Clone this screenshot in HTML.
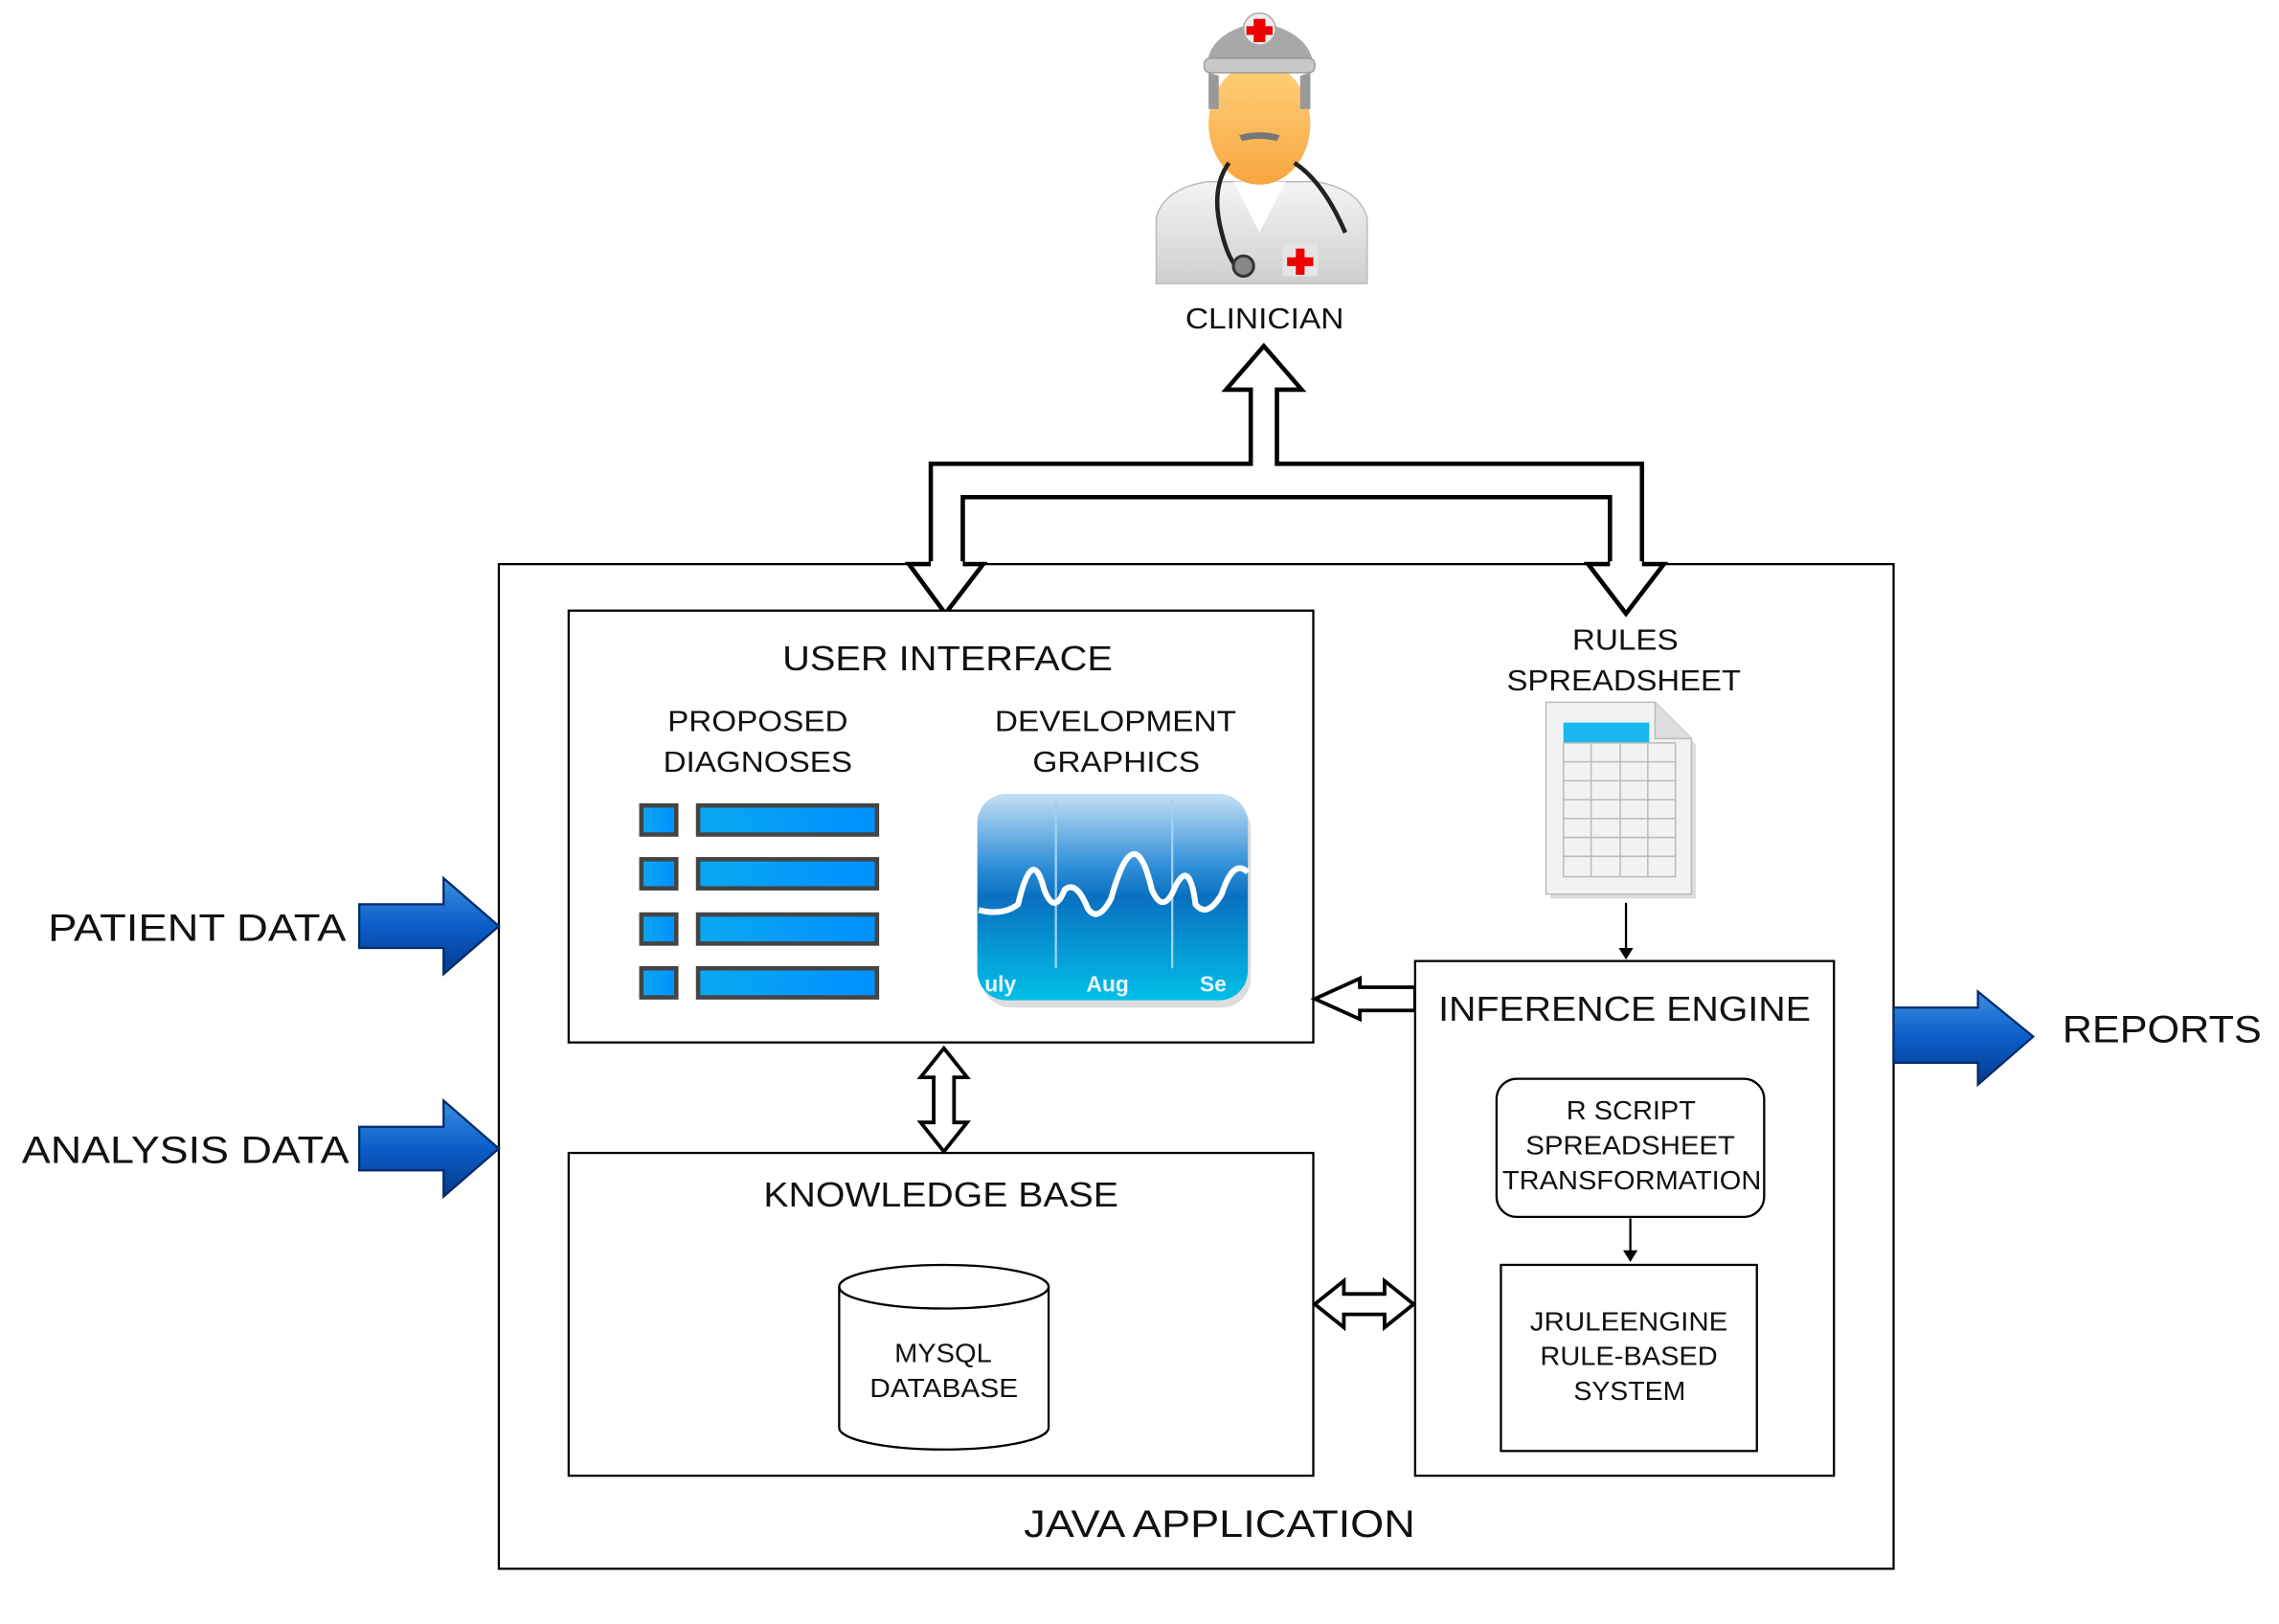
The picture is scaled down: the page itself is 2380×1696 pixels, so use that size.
<!DOCTYPE html>
<html><head><meta charset="utf-8"><style>
html,body{margin:0;padding:0;background:#fff}
svg{display:block}
text{font-family:"Liberation Sans",sans-serif;fill:#111}
</style></head><body>
<svg width="2380" height="1696" viewBox="0 0 1567 1117" preserveAspectRatio="none" xmlns="http://www.w3.org/2000/svg">
<defs>
<linearGradient id="bl" x1="0" y1="0" x2="0" y2="1"><stop offset="0" stop-color="#3a8fe0"/><stop offset="0.5" stop-color="#0a5ec8"/><stop offset="1" stop-color="#063a8c"/></linearGradient>
<linearGradient id="bar" x1="0" y1="0" x2="1" y2="0"><stop offset="0" stop-color="#0aa8f0"/><stop offset="1" stop-color="#0090ff"/></linearGradient>
<linearGradient id="ch" x1="0" y1="0" x2="0" y2="1"><stop offset="0" stop-color="#c6e0f4"/><stop offset="0.35" stop-color="#2f8fd8"/><stop offset="0.5" stop-color="#0a70c0"/><stop offset="1" stop-color="#00c0e8"/></linearGradient>
<linearGradient id="face" x1="0" y1="0" x2="0" y2="1"><stop offset="0" stop-color="#ffd27a"/><stop offset="1" stop-color="#f7a640"/></linearGradient>
<linearGradient id="coat" x1="0" y1="0" x2="0" y2="1"><stop offset="0" stop-color="#f4f4f4"/><stop offset="1" stop-color="#cfcfcf"/></linearGradient>
</defs>

<!-- clinician -->
<g>
<path d="M795,195 L795,150 Q800,130 830,125 L905,125 Q935,130 940,150 L940,195 Z" fill="url(#coat)" stroke="#bbb"/>
<path d="M848,125 L866,160 L884,125 Z" fill="#fff"/>
<ellipse cx="866" cy="85" rx="35" ry="42" fill="url(#face)"/>
<path d="M831,50 L831,75 L838,75 L838,52 Z M901,50 L901,75 L894,75 L894,52 Z" fill="#999"/>
<path d="M830,44 Q832,22 866,15 Q900,22 903,44 Z" fill="#a8a8a8"/>
<rect x="828" y="40" width="76" height="10" rx="4" fill="#c8c8c8" stroke="#999"/>
<circle cx="866" cy="20" r="11" fill="#eee" stroke="#aaa"/>
<path d="M862,13h8v5h5v6h-5v5h-8v-5h-5v-6h5z" fill="#e00"/>
<path d="M852,93 Q866,89 880,93 L878,97 Q866,94 854,97 Z" fill="#777"/>
<path d="M845,112 Q832,130 840,160 Q845,180 852,185 M890,112 Q910,125 925,160" fill="none" stroke="#222" stroke-width="3"/>
<circle cx="855" cy="183" r="7" fill="#888" stroke="#333" stroke-width="2"/>
<rect x="882" y="168" width="24" height="22" fill="#e4e4e4"/>
<path d="M891,171h6v6h6v6h-6v6h-6v-6h-6v-6h6z" fill="#e00"/>
<text x="815" y="226" font-size="20" textLength="109" lengthAdjust="spacingAndGlyphs">CLINICIAN</text>
</g>

<!-- hollow branching arrow -->
<polygon points="869,238 895,268 878,268 878,319 1129,319 1129,388 1144,388 1118,422 1092,388 1107,388 1107,342 662,342 662,388 676,388 650,422 625,388 640,388 640,319 860,319 860,268 843,268" fill="#fff" stroke="#000" stroke-width="3"/>

<!-- outer box -->
<rect x="343" y="388" width="959" height="691" fill="none" stroke="#000" stroke-width="1.5"/>
<polygon points="650,422 676,388 625,388" fill="#fff"/>
<polygon points="1118,422 1144,388 1092,388" fill="#fff"/>
<polygon points="650,422 676,388 625,388" fill="none" stroke="#000" stroke-width="3"/>
<polygon points="1118,422 1144,388 1092,388" fill="none" stroke="#000" stroke-width="3"/>
<line x1="640" y1="388" x2="662" y2="388" stroke="#fff" stroke-width="4"/>
<line x1="1107" y1="388" x2="1129" y2="388" stroke="#fff" stroke-width="4"/>
<text x="704" y="1057" font-size="26" textLength="269" lengthAdjust="spacingAndGlyphs">JAVA APPLICATION</text>

<!-- UI box -->
<rect x="391" y="420" width="512" height="297" fill="#fff" stroke="#000" stroke-width="1.5"/>
<text x="538" y="461" font-size="24" textLength="227" lengthAdjust="spacingAndGlyphs">USER INTERFACE</text>
<text x="459" y="503" font-size="20" textLength="124" lengthAdjust="spacingAndGlyphs">PROPOSED</text>
<text x="456" y="531" font-size="20" textLength="130" lengthAdjust="spacingAndGlyphs">DIAGNOSES</text>
<text x="684" y="503" font-size="20" textLength="166" lengthAdjust="spacingAndGlyphs">DEVELOPMENT</text>
<text x="710" y="531" font-size="20" textLength="115" lengthAdjust="spacingAndGlyphs">GRAPHICS</text>
<g stroke="#444" stroke-width="3" fill="url(#bar)">
<rect x="441" y="554" width="24" height="20"/><rect x="480" y="554" width="123" height="20"/>
<rect x="441" y="591" width="24" height="20"/><rect x="480" y="591" width="123" height="20"/>
<rect x="441" y="629" width="24" height="20"/><rect x="480" y="629" width="123" height="20"/>
<rect x="441" y="666" width="24" height="20"/><rect x="480" y="666" width="123" height="20"/>
</g>
<rect x="675" y="550" width="185" height="143" rx="20" fill="#bbb" opacity="0.5"/>
<rect x="672" y="546" width="186" height="142" rx="20" fill="url(#ch)"/>
<line x1="726" y1="550" x2="726" y2="666" stroke="#9fd2f0" stroke-width="1.5"/>
<line x1="806" y1="550" x2="806" y2="666" stroke="#9fd2f0" stroke-width="1.5"/>
<path d="M673,626 Q690,630 700,622 Q710,580 718,612 Q725,630 732,612 Q740,605 748,625 Q755,635 764,618 Q780,560 792,612 Q800,630 808,610 Q818,590 822,622 Q830,632 840,615 Q848,590 858,600" fill="none" stroke="#fff" stroke-width="4"/>
<text x="677" y="682" font-size="15" font-weight="bold" style="fill:#e8f6ff">uly</text>
<text x="747" y="682" font-size="15" font-weight="bold" style="fill:#e8f6ff">Aug</text>
<text x="825" y="682" font-size="15" font-weight="bold" style="fill:#e8f6ff">Se</text>

<!-- KB box -->
<rect x="391" y="793" width="512" height="222" fill="#fff" stroke="#000" stroke-width="1.5"/>
<text x="525" y="830" font-size="24" textLength="244" lengthAdjust="spacingAndGlyphs">KNOWLEDGE BASE</text>
<path d="M577,885 L577,982 A72,15 0 0 0 721,982 L721,885" fill="#fff" stroke="#000" stroke-width="1.5"/>
<ellipse cx="649" cy="885" rx="72" ry="15" fill="#fff" stroke="#000" stroke-width="1.5"/>
<text x="615" y="937" font-size="18" textLength="67" lengthAdjust="spacingAndGlyphs">MYSQL</text>
<text x="598" y="961" font-size="18" textLength="102" lengthAdjust="spacingAndGlyphs">DATABASE</text>

<!-- UI<->KB arrow -->
<polygon points="649,721 665,741 656,741 656,772 665,772 649,792 633,772 642,772 642,741 633,741" fill="#fff" stroke="#000" stroke-width="2.5"/>
<!-- KB<->IE arrow -->
<polygon points="904,897 924,881 924,890 952,890 952,881 972,897 952,913 952,904 924,904 924,913" fill="#fff" stroke="#000" stroke-width="2.5"/>
<!-- IE->UI arrow -->
<polygon points="904,687 935,673 935,679 973,679 973,695 935,695 935,701" fill="#fff" stroke="#000" stroke-width="2.5"/>

<!-- Rules spreadsheet -->
<text x="1081" y="447" font-size="20" textLength="73" lengthAdjust="spacingAndGlyphs">RULES</text>
<text x="1036" y="475" font-size="20" textLength="161" lengthAdjust="spacingAndGlyphs">SPREADSHEET</text>
<path d="M1066,486 L1140,486 L1166,512 L1166,618 L1066,618 Z" fill="#bbb" opacity="0.5"/>
<path d="M1063,483 L1138,483 L1163,508 L1163,615 L1063,615 Z" fill="#f2f2f2" stroke="#bbb"/>
<path d="M1138,483 L1138,508 L1163,508" fill="#ddd" stroke="#bbb"/>
<rect x="1075" y="497" width="59" height="14" fill="#1ab8ef"/>
<g stroke="#bbb" stroke-width="1" fill="none">
<rect x="1075" y="511" width="77" height="92"/>
<line x1="1094" y1="511" x2="1094" y2="603"/><line x1="1114" y1="511" x2="1114" y2="603"/><line x1="1133" y1="511" x2="1133" y2="603"/>
<line x1="1075" y1="524" x2="1152" y2="524"/><line x1="1075" y1="537" x2="1152" y2="537"/><line x1="1075" y1="550" x2="1152" y2="550"/><line x1="1075" y1="563" x2="1152" y2="563"/><line x1="1075" y1="576" x2="1152" y2="576"/><line x1="1075" y1="589" x2="1152" y2="589"/>
</g>
<line x1="1118" y1="621" x2="1118" y2="654" stroke="#000" stroke-width="1.5"/>
<polygon points="1113,652 1123,652 1118,660" fill="#000"/>

<!-- IE box -->
<rect x="973" y="661" width="288" height="354" fill="#fff" stroke="#000" stroke-width="1.5"/>
<text x="989" y="702" font-size="24" textLength="256" lengthAdjust="spacingAndGlyphs">INFERENCE ENGINE</text>
<rect x="1029" y="742" width="184" height="95" rx="14" fill="#fff" stroke="#000" stroke-width="1.5"/>
<text x="1077" y="770" font-size="18" textLength="89" lengthAdjust="spacingAndGlyphs">R SCRIPT</text>
<text x="1049" y="794" font-size="18" textLength="144" lengthAdjust="spacingAndGlyphs">SPREADSHEET</text>
<text x="1033" y="818" font-size="18" textLength="178" lengthAdjust="spacingAndGlyphs">TRANSFORMATION</text>
<line x1="1121" y1="838" x2="1121" y2="862" stroke="#000" stroke-width="1.5"/>
<polygon points="1116,860 1126,860 1121,868" fill="#000"/>
<rect x="1032" y="870" width="176" height="128" fill="#fff" stroke="#000" stroke-width="1.5"/>
<text x="1052" y="915" font-size="18" textLength="136" lengthAdjust="spacingAndGlyphs">JRULEENGINE</text>
<text x="1059" y="939" font-size="18" textLength="122" lengthAdjust="spacingAndGlyphs">RULE-BASED</text>
<text x="1082" y="963" font-size="18" textLength="77" lengthAdjust="spacingAndGlyphs">SYSTEM</text>

<!-- blue arrows -->
<polygon points="247,622 305,622 305,604 343,637 305,670 305,652 247,652" fill="url(#bl)" stroke="#062a6a" stroke-width="1.5"/>
<polygon points="247,775 305,775 305,757 343,790 305,823 305,805 247,805" fill="url(#bl)" stroke="#062a6a" stroke-width="1.5"/>
<polygon points="1302,693 1360,693 1360,682 1398,713 1360,746 1360,731 1302,731" fill="url(#bl)" stroke="#062a6a" stroke-width="1.5"/>
<text x="33" y="647" font-size="26" textLength="205" lengthAdjust="spacingAndGlyphs">PATIENT DATA</text>
<text x="15" y="800" font-size="26" textLength="225" lengthAdjust="spacingAndGlyphs">ANALYSIS DATA</text>
<text x="1418" y="717" font-size="26" textLength="137" lengthAdjust="spacingAndGlyphs">REPORTS</text>
</svg>
</body></html>
